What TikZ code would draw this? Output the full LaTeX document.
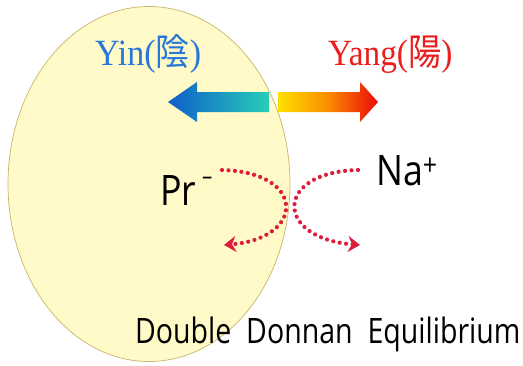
\documentclass[tikz,border=0pt]{standalone}
\usepackage{fontspec}
\setmainfont{Liberation Serif}
\newfontfamily\cjk{Noto Sans CJK KR}
\newfontfamily\osans{Open Sans}
\usetikzlibrary{shapes.geometric,arrows.meta}
\definecolor{cellfill}{RGB}{255,250,200}
\definecolor{celldraw}{RGB}{200,180,110}
\definecolor{yinblue}{RGB}{40,120,220}
\definecolor{yangred}{RGB}{235,30,30}
\definecolor{tipblue}{RGB}{15,95,200}
\definecolor{tealend}{RGB}{40,205,185}
\definecolor{yelstart}{RGB}{255,225,0}
\definecolor{midorange}{RGB}{250,140,0}
\definecolor{redend}{RGB}{235,10,10}
\definecolor{dotred}{RGB}{220,30,60}
\tikzset{
  txt/.style={inner sep=0pt, anchor=base west},
  dotarrow/.style={dotred, line width=4.2pt, line cap=round, dash pattern=on 0pt off 6.5pt,
    -{Stealth[length=12pt,width=16pt,inset=4pt]}},
}
\begin{document}
\begin{tikzpicture}[x=1pt,y=-1pt]
\useasboundingbox (0,0) rectangle (523,365);
\node[ellipse, draw=celldraw, fill=cellfill, line width=0.7pt, minimum width=282pt, minimum height=355pt, inner sep=0pt] (cell) at (149,184) {};
% gradient arrows
\shade[left color=tipblue, right color=tealend]
  (168,102) -- (197,82) -- (197,92) -- (269,92) -- (269,112) -- (197,112) -- (197,122) -- cycle;
\shade[left color=yelstart, right color=redend, middle color=midorange]
  (278,92) -- (360,92) -- (360,82) -- (378,102) -- (360,122) -- (360,112) -- (278,112) -- cycle;
% labels
\node[txt, text=yinblue, font=\fontsize{37}{40}\selectfont] (yin) at (95,65) {\scalebox{0.92}[1]{Yin({\cjk 陰})}};
\node[txt, text=yangred, font=\fontsize{37}{40}\selectfont] (yang) at (328,65) {\scalebox{0.9}[1]{Yang({\cjk 陽})}};
\node[txt, font=\osans\fontsize{42}{46}\selectfont] (pr) at (160,205) {\scalebox{0.85}[1]{Pr\,\raisebox{0.5em}{\fontsize{24}{24}\selectfont –}}};
\node[txt, font=\osans\fontsize{42}{46}\selectfont] (na) at (376,185) {\scalebox{0.85}[1]{Na\textsuperscript{+}}};
\node[txt, font=\osans\fontsize{35}{40}\selectfont] (dde) at (135,343) {\scalebox{0.815}[1]{Double\ \ Donnan\ \ Equilibrium}};
% dotted exchange arrows
\coordinate (l1) at (222,170);
\coordinate (l2) at (224,245);
\coordinate (r1) at (358,170);
\coordinate (r2) at (360,245);
\draw[dotarrow] (l1) .. controls (306,172) and (306,238) .. (l2);
\draw[dotarrow] (r1) .. controls (274,172) and (274,238) .. (r2);
\end{tikzpicture}
\end{document}
